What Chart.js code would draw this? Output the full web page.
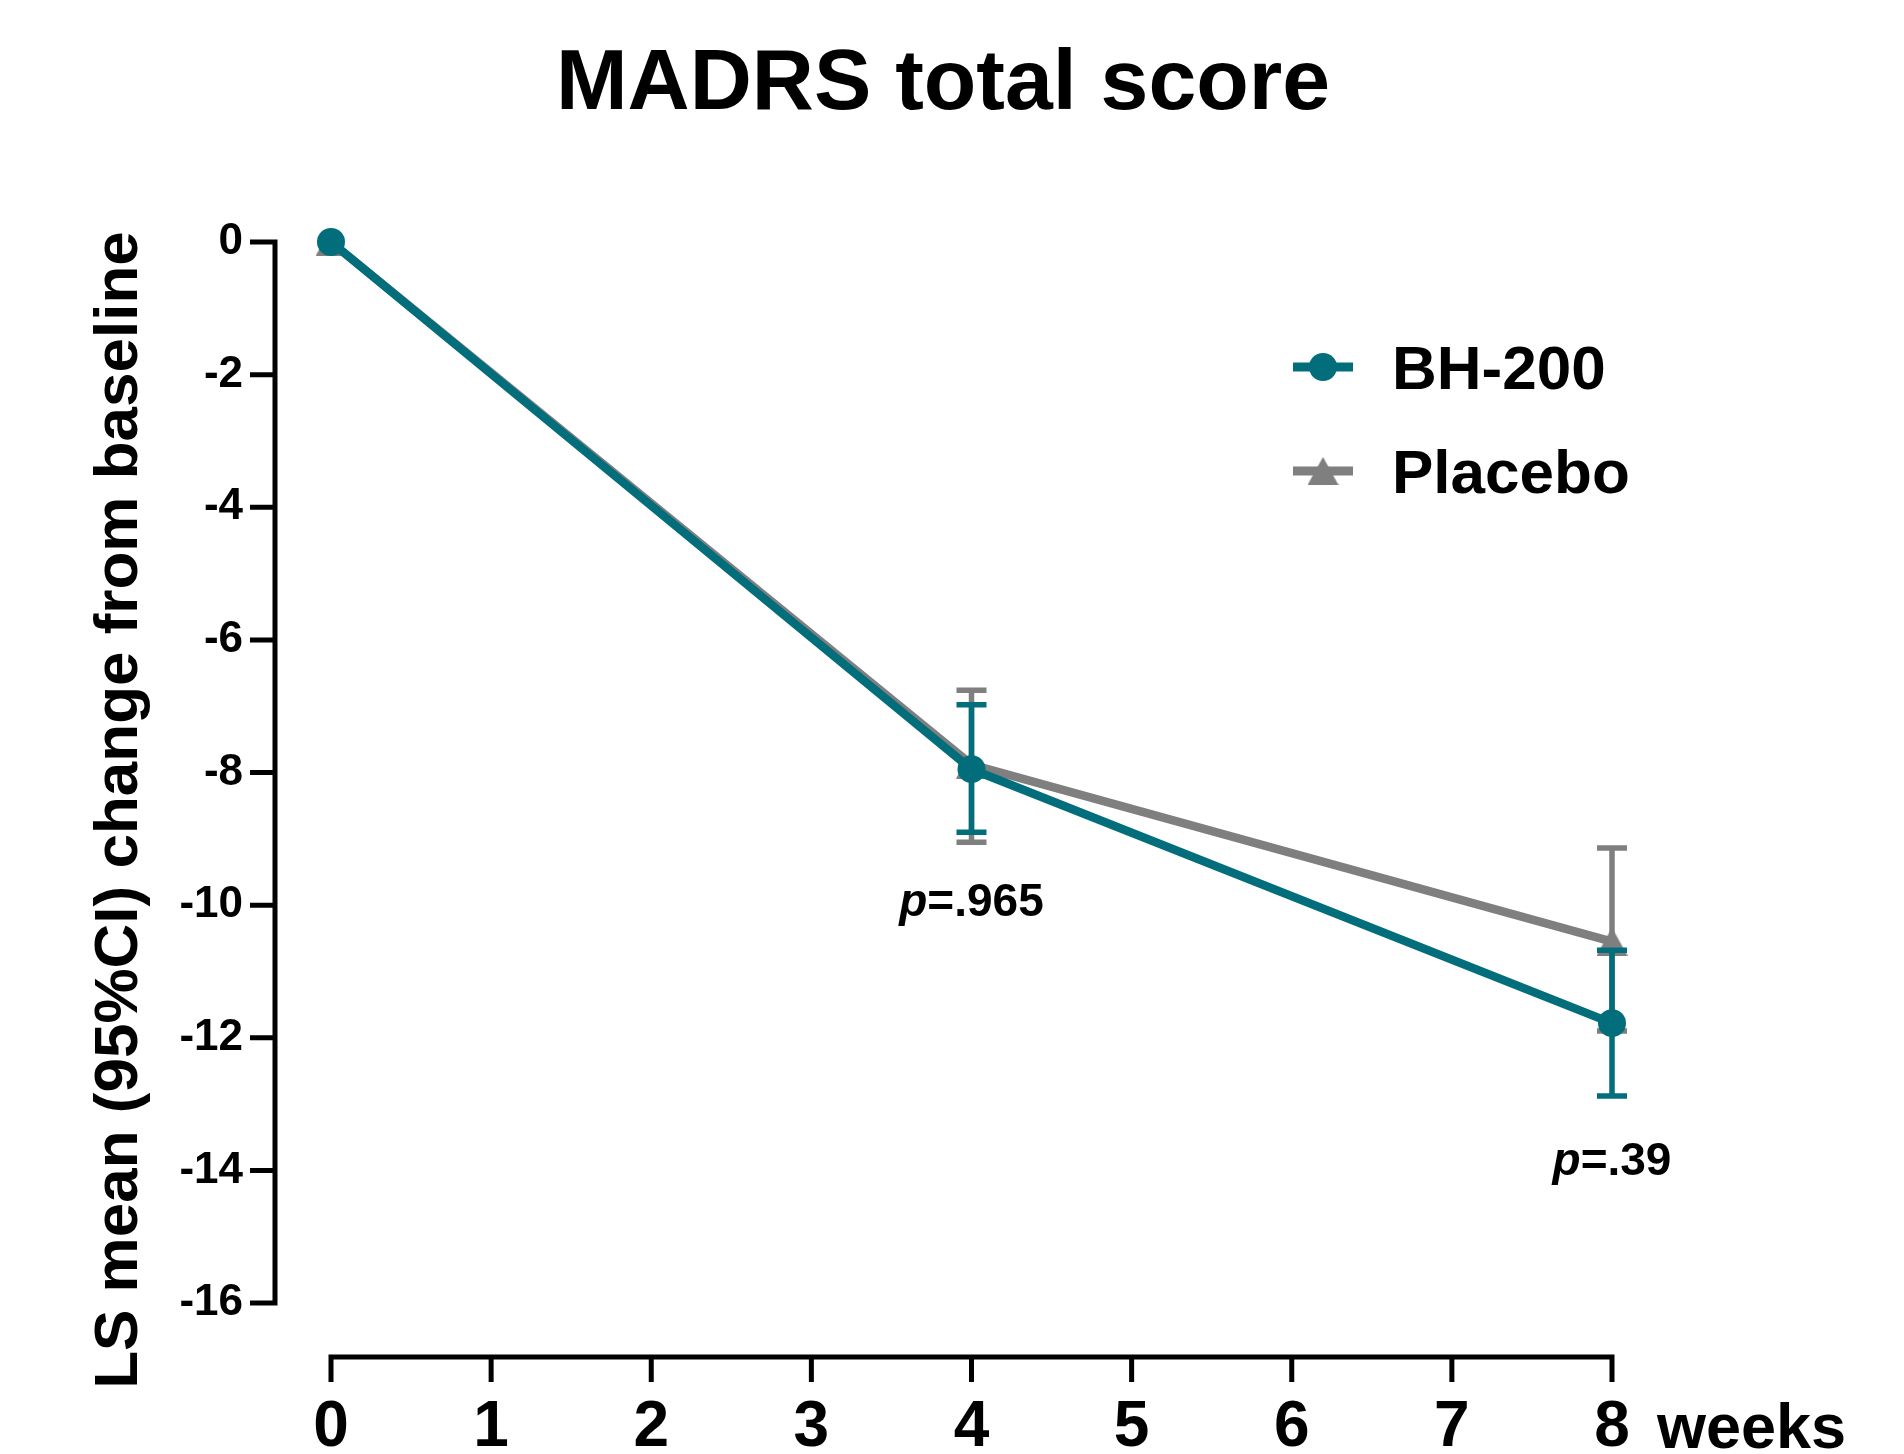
<!DOCTYPE html>
<html>
<head>
<meta charset="utf-8">
<script src="https://cdn.jsdelivr.net/npm/chart.js"></script>
<style>
  body { margin: 0; background: #fff; }
  #wrap { width: 1904px; height: 1454px; }
</style>
</head>
<body>
<div id="wrap"><canvas id="chart" width="1904" height="1454"></canvas></div>
<script>
// data
var weeks = [0, 4, 8];
var bhMean = [0, -7.95, -11.78];
var bhLow = [null, -8.9, -12.88];
var bhHigh = [null, -6.98, -10.68];
var pboMean = [0, -7.88, -10.55];
var pboLow = [null, -9.05, -11.9];
var pboHigh = [null, -6.76, -9.14];
var seriesNames = ["BH-200", "Placebo"];
var pWeeks = [4, 8];
var pY = [-10.17, -14.07];
var pText = ["=.965", "=.39"];

var teal = "#036e7b";
var grey = "#7f7f7f";
var FONT = '"Liberation Sans", Arial, sans-serif';

var lows = [bhLow, pboLow];
var highs = [bhHigh, pboHigh];
var colors = [teal, grey];

var toPoints = function(vals) {
  return weeks.map((w, i) => ({ x: w, y: vals[i] }));
};

// triangle marker centred on its bounding box (like Prism)
var makeTriangle = function(color) {
  var c = document.createElement("canvas");
  c.width = 31;
  c.height = 28;
  var g = c.getContext("2d");
  g.fillStyle = color;
  g.beginPath();
  g.moveTo(15.5, 0);
  g.lineTo(31, 28);
  g.lineTo(0, 28);
  g.closePath();
  g.fill();
  return c;
};
var triangleImg = makeTriangle(grey);

var errorBars = {
  id: "errorBars",
  beforeDatasetDraw: function(chart, args) {
    var i = args.index;
    var ctx = chart.ctx;
    var xs = chart.scales.x, ys = chart.scales.y;
    ctx.save();
    ctx.strokeStyle = colors[i];
    ctx.lineWidth = 5.5;
    weeks.forEach((w, k) => {
      if (lows[i][k] == null) return;
      var px = xs.getPixelForValue(w);
      var y1 = ys.getPixelForValue(lows[i][k]);
      var y2 = ys.getPixelForValue(highs[i][k]);
      ctx.beginPath();
      ctx.moveTo(px, y1); ctx.lineTo(px, y2);
      ctx.moveTo(px - 15, y1); ctx.lineTo(px + 15, y1);
      ctx.moveTo(px - 15, y2); ctx.lineTo(px + 15, y2);
      ctx.stroke();
    });
    ctx.restore();
  }
};

var decorations = {
  id: "decorations",
  afterDraw: function(chart) {
    var ctx = chart.ctx;
    var xs = chart.scales.x, ys = chart.scales.y;
    var area = chart.chartArea;
    ctx.save();

    // offset axes, Prism style
    ctx.strokeStyle = "#000";
    ctx.lineWidth = 5;
    ctx.lineCap = "butt";
    var axX = area.left - 56;
    var top = ys.getPixelForValue(ys.max), bot = ys.getPixelForValue(ys.min);
    ctx.beginPath();
    ctx.moveTo(axX, top - 2.5); ctx.lineTo(axX, bot + 2.5);
    ys.ticks.forEach(t => {
      var py = ys.getPixelForValue(t.value);
      ctx.moveTo(axX, py); ctx.lineTo(axX - 25, py);
    });
    var axY = area.bottom + 54;
    var l = xs.getPixelForValue(xs.min), r = xs.getPixelForValue(xs.max);
    ctx.moveTo(l - 2.5, axY); ctx.lineTo(r + 2.5, axY);
    xs.ticks.forEach(t => {
      var px = xs.getPixelForValue(t.value);
      ctx.moveTo(px, axY); ctx.lineTo(px, axY + 25);
    });
    ctx.stroke();

    ctx.fillStyle = "#000";
    // title
    ctx.font = "bold 86px " + FONT;
    ctx.textAlign = "center";
    ctx.textBaseline = "alphabetic";
    ctx.fillText("MADRS total score", 943, 109);

    // y axis title
    ctx.save();
    ctx.translate(137, 810);
    ctx.rotate(-Math.PI / 2);
    ctx.font = "bold 62px " + FONT;
    ctx.fillText("LS mean (95%CI) change from baseline", 0, 0);
    ctx.restore();

    // x unit
    ctx.textAlign = "left";
    ctx.font = "bold 63px " + FONT;
    ctx.fillText("weeks", 1657, 1448);

    // p values
    pWeeks.forEach((w, k) => {
      ctx.font = "italic bold 46px " + FONT;
      var wp = ctx.measureText("p").width;
      ctx.font = "bold 46px " + FONT;
      var wr = ctx.measureText(pText[k]).width;
      var cx = xs.getPixelForValue(w);
      var py = ys.getPixelForValue(pY[k]);
      var sx = cx - (wp + wr) / 2;
      ctx.font = "italic bold 46px " + FONT;
      ctx.fillText("p", sx, py);
      ctx.font = "bold 46px " + FONT;
      ctx.fillText(pText[k], sx + wp, py);
    });

    // legend
    var legY = [367, 471];
    seriesNames.forEach((name, k) => {
      ctx.strokeStyle = colors[k];
      ctx.lineWidth = 9;
      ctx.beginPath();
      ctx.moveTo(1293, legY[k]); ctx.lineTo(1353, legY[k]);
      ctx.stroke();
      if (k === 0) {
        ctx.fillStyle = colors[k];
        ctx.beginPath();
        ctx.arc(1323, legY[k], 14, 0, Math.PI * 2);
        ctx.fill();
      } else {
        ctx.drawImage(triangleImg, 1323 - 15.5, legY[k] - 14);
      }
      ctx.fillStyle = "#000";
      ctx.font = "bold 62px " + FONT;
      ctx.fillText(name, 1392, legY[k] + 22);
    });
    ctx.restore();
  }
};

var ctx = document.getElementById("chart").getContext("2d");
var myChart = new Chart(ctx, {
  type: "line",
  data: {
    datasets: [
      {
        label: seriesNames[0],
        data: toPoints(bhMean),
        borderColor: teal,
        backgroundColor: teal,
        borderWidth: 8.5,
        pointStyle: "circle",
        pointRadius: 14,
        pointBorderWidth: 0,
        clip: false
      },
      {
        label: seriesNames[1],
        data: toPoints(pboMean),
        borderColor: grey,
        backgroundColor: grey,
        borderWidth: 8.5,
        pointStyle: triangleImg,
        pointRadius: 15,
        pointBorderWidth: 0,
        clip: false
      }
    ]
  },
  options: {
    responsive: false,
    animation: false,
    devicePixelRatio: 1,
    layout: { padding: { left: 0, right: 292, top: 242, bottom: 0 } },
    plugins: {
      legend: { display: false },
      title: { display: false },
      tooltip: { enabled: false }
    },
    scales: {
      x: {
        type: "linear",
        min: 0,
        max: 8,
        border: { display: false },
        grid: { display: false, drawTicks: false },
        ticks: {
          stepSize: 1,
          padding: 87,
          color: "#000",
          maxRotation: 0,
          font: { family: FONT, size: 64, weight: "bold" }
        },
        afterFit: function(scale) { scale.height = 151; }
      },
      y: {
        min: -16,
        max: 0,
        border: { display: false },
        grid: { display: false, drawTicks: false },
        ticks: {
          stepSize: 2,
          padding: 88,
          color: "#000",
          font: { family: FONT, size: 44, weight: "bold" }
        },
        afterFit: function(scale) { scale.width = 331; }
      }
    }
  },
  plugins: [errorBars, decorations]
});
</script>
</body>
</html>
